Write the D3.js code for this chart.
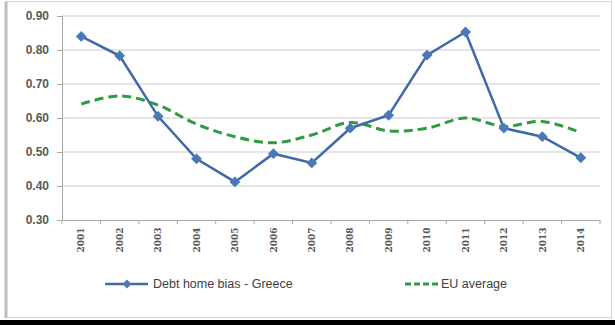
<!DOCTYPE html>
<html>
<head>
<meta charset="utf-8">
<script src="https://cdn.jsdelivr.net/npm/d3@7"></script>
<style>
  body { margin: 0; background: #fff; }
  svg { display: block; }
</style>
</head>
<body>
<div id="chart"></div>
<script>
const years = ["2001","2002","2003","2004","2005","2006","2007","2008","2009","2010","2011","2012","2013","2014"];
const greece = [0.84, 0.783, 0.605, 0.48, 0.412, 0.495, 0.468, 0.57, 0.608, 0.785, 0.853, 0.57, 0.545, 0.483];
const euAvg = [0.641, 0.665, 0.638, 0.582, 0.545, 0.527, 0.55, 0.587, 0.562, 0.57, 0.6, 0.575, 0.59, 0.557];
const yTicks = [0.30, 0.40, 0.50, 0.60, 0.70, 0.80, 0.90];

const W = 615, H = 325;
const margin = { top: 16, right: 15, bottom: 105, left: 62 };

const svg = d3.select("#chart").append("svg")
  .attr("width", W).attr("height", H);

// outer frame
svg.append("rect").attr("x", 5.5).attr("y", 1.5).attr("width", 606).attr("height", 316)
  .attr("fill", "#fff").attr("stroke", "#d4d4d4").attr("stroke-width", 1);
svg.append("line").attr("x1", 6).attr("x2", 6).attr("y1", 2).attr("y2", 318)
  .attr("stroke", "#bdbdbd").attr("stroke-width", 3);
svg.append("rect").attr("x", 0).attr("y", 320).attr("width", W).attr("height", 5).attr("fill", "#000");

const x = d3.scaleBand().domain(years).range([margin.left, W - margin.right]);
const y = d3.scaleLinear().domain([0.3, 0.9]).range([H - margin.bottom, margin.top]);

// gridlines
svg.append("g").selectAll("line").data(yTicks.slice(1)).join("line")
  .attr("x1", margin.left).attr("x2", W - margin.right)
  .attr("y1", d => y(d)).attr("y2", d => y(d))
  .attr("stroke", "#dcdcdc").attr("stroke-width", 1.5);

// y axis
const yAxis = svg.append("g").attr("transform", `translate(${margin.left},0)`)
  .call(d3.axisLeft(y).tickValues(yTicks).tickFormat(d3.format(".2f")).tickSize(5).tickPadding(8));
yAxis.select(".domain").attr("stroke", "#a6a6a6");
yAxis.selectAll(".tick line").attr("stroke", "#a6a6a6");
yAxis.selectAll("text").attr("fill", "#595959")
  .style("font-family", "'Liberation Sans', Arial, sans-serif").style("font-size", "12px").style("font-weight", "bold");

// x axis
const xAxis = svg.append("g").attr("transform", `translate(0,${y(0.3)})`)
  .call(d3.axisBottom(x).tickSize(0).tickPadding(0));
xAxis.select(".domain").attr("stroke", "#a6a6a6");
xAxis.selectAll("text")
  .attr("transform", "rotate(-90)")
  .attr("x", -20).attr("y", 0).attr("dy", "0.35em")
  .attr("text-anchor", "middle")
  .attr("fill", "#595959")
  .style("font-family", "'DejaVu Serif', serif").style("font-size", "9px").style("font-weight", "bold");
// category boundary ticks
svg.append("g").selectAll("line").data(years.concat(["end"])).join("line")
  .attr("x1", (d, i) => margin.left + i * x.bandwidth())
  .attr("x2", (d, i) => margin.left + i * x.bandwidth())
  .attr("y1", y(0.3)).attr("y2", y(0.3) + 4)
  .attr("stroke", "#a6a6a6");

const cx = (d, i) => x(years[i]) + x.bandwidth() / 2;

// EU average (smoothed dashed)
svg.append("path").datum(euAvg)
  .attr("fill", "none").attr("stroke", "#2e9b3e").attr("stroke-width", 3)
  .attr("stroke-dasharray", "9,5")
  .attr("d", d3.line().x(cx).y(d => y(d)).curve(d3.curveCatmullRom.alpha(0.5)));

// Greece line
svg.append("path").datum(greece)
  .attr("fill", "none").attr("stroke", "#4169a8").attr("stroke-width", 2.5)
  .attr("d", d3.line().x(cx).y(d => y(d)));

const diamond = d3.symbol().type(d3.symbolDiamond2).size(75);
svg.append("g").selectAll("path").data(greece).join("path")
  .attr("transform", (d, i) => `translate(${cx(d, i)},${y(d)})`)
  .attr("d", diamond)
  .attr("fill", "#4a78b8");

// legend
const leg = svg.append("g").style("font-family", "'Liberation Sans', Arial, sans-serif")
  .style("font-size", "12.5px").attr("fill", "#404040");
leg.append("line").attr("x1", 105).attr("x2", 148).attr("y1", 284).attr("y2", 284)
  .attr("stroke", "#4169a8").attr("stroke-width", 2.5);
leg.append("path").attr("transform", "translate(127,284)").attr("d", d3.symbol().type(d3.symbolDiamond2).size(50)).attr("fill", "#4a78b8");
leg.append("text").attr("x", 153).attr("y", 288).text("Debt home bias - Greece");
leg.append("line").attr("x1", 405).attr("x2", 438).attr("y1", 284).attr("y2", 284)
  .attr("stroke", "#2e9b3e").attr("stroke-width", 3).attr("stroke-dasharray", "6,3");
leg.append("text").attr("x", 441).attr("y", 288).text("EU average");
</script>
</body>
</html>
